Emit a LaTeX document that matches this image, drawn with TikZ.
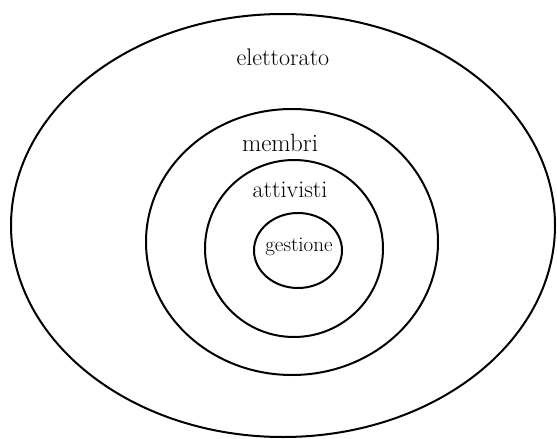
\documentclass[tikz,border=0pt]{standalone}
\usepackage{tikz}
\tikzset{ring/.style={line width=2pt,black},
  lab/.style={font=\fontsize{24}{28}\selectfont,inner sep=0pt}}

\begin{document}
\begin{tikzpicture}[x=1pt,y=-1pt]
\useasboundingbox (0,0) rectangle (557,439);
\coordinate (E) at (283,225.5); \coordinate (M) at (292,242); \coordinate (A) at (294,248.5); \coordinate (G) at (298,250.5);
\draw[ring] (E) ellipse [x radius=272,y radius=211.5];
\draw[ring] (M) ellipse [x radius=146,y radius=133];
\draw[ring] (A) ellipse [x radius=89,y radius=88.5];
\draw[ring] (G) ellipse [x radius=44,y radius=37.5];
\node[lab] (elettorato) at (283,57) {elettorato}; \node[lab,font=\fontsize{25}{28}\selectfont] (membri) at (280,143) {membri};
\node[lab] (attivisti) at (290,190) {attivisti}; \node[lab,font=\fontsize{21}{24}\selectfont] (gestione) at (299,247) {gestione};
\end{tikzpicture}
\end{document}
